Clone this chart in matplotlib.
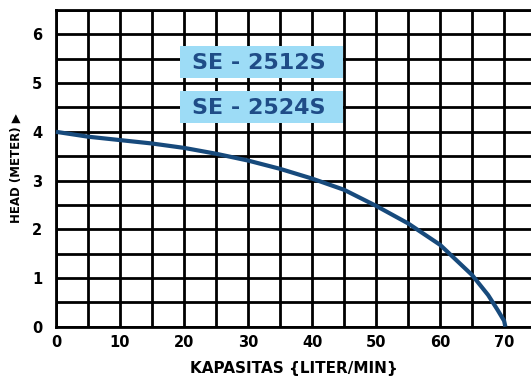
import matplotlib
matplotlib.use("Agg")
import matplotlib.pyplot as plt
from matplotlib.ticker import MultipleLocator
from matplotlib.patches import Rectangle

# Data
flow = [0, 5, 10, 15, 20, 25, 30, 35, 40, 45, 50, 55, 60, 65, 67.5, 69, 70, 70.2]
head = [4.0, 3.90, 3.83, 3.76, 3.67, 3.55, 3.41, 3.24, 3.04, 2.81, 2.48, 2.12, 1.68, 1.06, 0.65, 0.34, 0.12, 0.0]
x_ticks = [0, 10, 20, 30, 40, 50, 60, 70]
y_ticks = [0, 1, 2, 3, 4, 5, 6]
models = ["SE - 2512S", "SE - 2524S"]

FONT = ["DejaVu Sans"]
plt.rcParams['font.family'] = FONT

fig = plt.figure(figsize=(5.31, 3.80), dpi=100)
ax = fig.add_axes([56/531, 1-326.7/380, 1-56/531, (326.7-10)/380])
ax.set_xlim(0, 74.2)
ax.set_ylim(0, 6.5)

ax.xaxis.set_major_locator(MultipleLocator(10))
ax.xaxis.set_minor_locator(MultipleLocator(5))
ax.yaxis.set_major_locator(MultipleLocator(1))
ax.yaxis.set_minor_locator(MultipleLocator(0.5))
ax.set_xticks(x_ticks)
ax.set_yticks(y_ticks)
ax.grid(True, which='both', color='black', linewidth=2.0)
ax.set_axisbelow(True)
ax.tick_params(which='both', length=0)
ax.tick_params(axis='x', pad=6)
ax.tick_params(axis='y', pad=10)
for lab in ax.get_xticklabels() + ax.get_yticklabels():
    lab.set_fontsize(10.5)
    lab.set_fontweight('bold')

for s in ['left', 'top', 'bottom']:
    ax.spines[s].set_color('black')
    ax.spines[s].set_linewidth(2.0)
ax.spines['right'].set_visible(False)

ax.plot(flow, head, color='#174a7c', linewidth=3.0, solid_capstyle='butt', zorder=3, clip_on=False)

# model labels
box_x0, box_x1 = 19.4, 44.8
for (y0, y1), name in zip([(5.11, 5.76), (4.18, 4.83)], models):
    ax.add_patch(Rectangle((box_x0, y0), box_x1 - box_x0, y1 - y0,
                           facecolor='#9ddcf6', edgecolor='none', zorder=4))
    ax.text((box_x0 + box_x1) / 2 - 0.4, (y0 + y1) / 2 - 0.02, name, ha='center', va='center',
            fontsize=16, fontweight='bold', color='#1f4c87', zorder=5)

ax.set_xlabel("KAPASITAS {LITER/MIN}", fontsize=11, fontweight='bold', labelpad=8)
ax.set_ylabel("HEAD (METER) \u25B6", fontsize=8.5, fontweight='bold', labelpad=7)

fig.savefig("out.png", dpi=100)
